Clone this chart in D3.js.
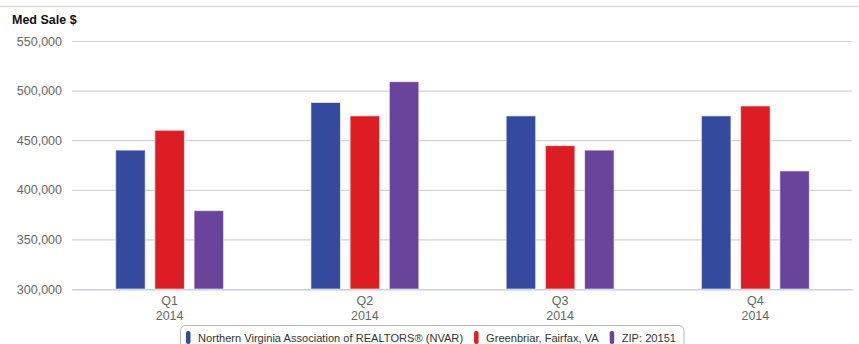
<!DOCTYPE html>
<html>
<head>
<meta charset="utf-8">
<script src="https://cdn.jsdelivr.net/npm/d3@7"></script>
<style>
  html, body { margin: 0; padding: 0; background: #fff; }
  svg { display: block; font-family: "Liberation Sans", Arial, Helvetica, sans-serif; }
</style>
</head>
<body>
<svg id="chart" width="859" height="344"></svg>
<script>
// Quarterly median sale price, 2014
const quarters = ["Q1", "Q2", "Q3", "Q4"];
const years = ["2014", "2014", "2014", "2014"];
const seriesNames = [
  "Northern Virginia Association of REALTORS® (NVAR)",
  "Greenbriar, Fairfax, VA",
  "ZIP: 20151"
];
const seriesColors = ["#344a9e", "#dd1c24", "#6a439b"];
const nvarValues = [440000, 488000, 474500, 474500];
const greenbriarValues = [460000, 474500, 444500, 484500];
const zipValues = [379000, 509000, 440000, 419000];
const yTicks = [300000, 350000, 400000, 450000, 500000, 550000];

const seriesValues = [nvarValues, greenbriarValues, zipValues];

const svg = d3.select("#chart");
const margin = { left: 72, right: 6, top: 41, bottom: 55 };
const W = 859, H = 344;

// Thin rule across the top of the panel
svg.append("line")
  .attr("x1", 0).attr("x2", W).attr("y1", 6.5).attr("y2", 6.5)
  .attr("stroke", "#dcdcdc").attr("stroke-width", 1.5);

const x = d3.scaleBand().domain(quarters).range([margin.left, W - margin.right]);
const y = d3.scaleLinear().domain([300000, 550000]).range([289, 41]);
const xs = d3.scalePoint().domain(seriesNames).range([-39.2, 39.2]);
const barW = 29.5;

// Y grid + labels
const yAxis = d3.axisLeft(y)
  .tickValues(yTicks)
  .tickSize(-(W - margin.right - margin.left - 1))
  .tickPadding(10)
  .tickFormat(d3.format(","));
const gy = svg.append("g").attr("transform", `translate(${margin.left},0)`).call(yAxis);
gy.select(".domain").remove();
gy.selectAll(".tick line").attr("stroke", "#d2d2d2").attr("stroke-width", 1.2);
gy.selectAll(".tick text")
  .attr("fill", "#666").attr("font-size", 12.5).attr("x", -10);

// Title
svg.append("text")
  .attr("x", 12).attr("y", 24)
  .attr("font-size", 12.5).attr("font-weight", "bold").attr("fill", "#111")
  .text("Med Sale $");

// Bars
const groups = svg.append("g").selectAll("g")
  .data(quarters)
  .join("g")
  .attr("transform", q => `translate(${x(q) + x.bandwidth() / 2},0)`);

groups.selectAll("rect")
  .data((q, qi) => seriesNames.map((s, si) => ({ s, si, v: seriesValues[si][qi] })))
  .join("rect")
  .attr("x", d => xs(d.s) - barW / 2)
  .attr("width", barW)
  .attr("y", d => y(d.v))
  .attr("height", d => y(300000) - y(d.v))
  .attr("fill", d => seriesColors[d.si])
  .attr("stroke", "rgba(255,255,255,0.6)")
  .attr("stroke-width", 1);

// X axis
const xAxis = d3.axisBottom(x).tickSize(0).tickPadding(0).tickFormat("");
const gx = svg.append("g").attr("transform", `translate(0,289.5)`).call(xAxis);
gx.select(".domain").attr("stroke", "#c0d0e0").attr("stroke-width", 1.2);
gx.selectAll(".tick").each(function (q, i) {
  const t = d3.select(this).select("text")
    .attr("fill", "#666").attr("font-size", 12.5).attr("y", 0).attr("dy", 0);
  t.text(null);
  t.append("tspan").attr("x", 0).attr("y", 15).text(q);
  t.append("tspan").attr("x", 0).attr("y", 30).text(years[i]);
});

// Legend
const legend = svg.append("g");
const box = legend.append("rect")
  .attr("x", 180.5).attr("y", 325.5).attr("height", 30).attr("rx", 5).attr("ry", 5)
  .attr("fill", "#fff").attr("stroke", "#b8b8b8").attr("stroke-width", 1);
let cx = 186;
seriesNames.forEach((name, i) => {
  const item = legend.append("g").attr("transform", `translate(${cx},0)`);
  item.append("rect")
    .attr("x", 0).attr("y", 331).attr("width", 4.5).attr("height", 13).attr("rx", 2)
    .attr("fill", seriesColors[i]);
  const t = item.append("text")
    .attr("x", 12).attr("y", 342)
    .attr("font-size", 11.1).attr("fill", "#333")
    .text(name);
  const w = t.node().getComputedTextLength();
  cx += 12 + w + 11;
});
box.attr("width", cx - 180.5 - 3);
</script>
</body>
</html>
